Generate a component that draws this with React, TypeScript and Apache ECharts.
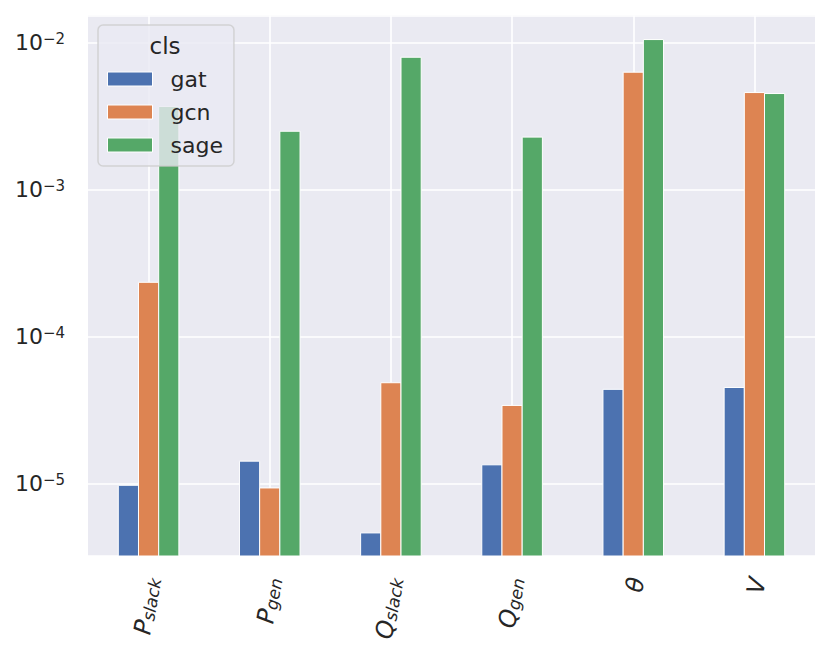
import React, { useEffect, useRef } from "react";
import * as echarts from "echarts";

const categories = ["P_slack", "P_gen", "Q_slack", "Q_gen", "θ", "V"];
const seriesNames = ["gat", "gcn", "sage"];
const gat = [9.8e-6, 1.43e-5, 4.65e-6, 1.35e-5, 4.4e-5, 4.53e-5];
const gcn = [2.35e-4, 9.4e-6, 4.88e-5, 3.42e-5, 6.3e-3, 4.58e-3];
const sage = [3.68e-3, 2.5e-3, 7.96e-3, 2.28e-3, 1.05e-2, 4.51e-3];
const colors = ["#4C72B0", "#DD8452", "#55A868"];
const yMin = 3.24e-6;
const yMax = 0.0153;

const FONT = "DejaVu Sans";
const TEXT = "#262626";

export default function App() {
  const ref = useRef<HTMLDivElement>(null);
  useEffect(() => {
    if (!ref.current) return;
    const chart = echarts.init(ref.current, undefined, { renderer: "svg" });
    const all = [gat, gcn, sage];
    const series = all.map((vals, si) => ({
      name: seriesNames[si],
      type: "custom",
      itemStyle: { color: colors[si] },
      encode: { x: 0, y: 1 },
      data: vals.map((v, i) => [i, v]),
      z: 2,
      renderItem: (params: any, api: any) => {
        const ci = api.value(0);
        const v = api.value(1);
        const top = api.coord([ci, v]);
        const base = api.coord([ci, yMin]);
        const band = api.size([1, 0])[0];
        const w = (band * 0.5) / 3;
        const x = top[0] + (si - 1) * w - w / 2;
        return {
          type: "rect",
          shape: { x, y: top[1], width: w, height: base[1] - top[1] },
          style: { fill: colors[si], stroke: "#ffffff", lineWidth: 1 },
        };
      },
    }));
    const option: any = {
      animation: false,
      backgroundColor: "#ffffff",
      textStyle: { fontFamily: FONT, color: TEXT },
      grid: {
        show: true,
        left: 88,
        right: 16,
        top: 15.5,
        bottom: 95,
        backgroundColor: "#EAEAF2",
        borderWidth: 0,
        containLabel: false,
      },
      legend: {
        orient: "vertical",
        left: 98,
        top: 25,
        padding: [43, 11, 10, 9],
        itemWidth: 45,
        itemHeight: 14,
        itemGap: 11,
        icon: "rect",
        backgroundColor: "rgba(234,234,242,0.8)",
        borderColor: "rgba(204,204,204,0.8)",
        borderWidth: 1.5,
        borderRadius: 5,
        itemStyle: { borderColor: "#ffffff", borderWidth: 1 },
        textStyle: {
          fontFamily: FONT,
          fontSize: 22,
          lineHeight: 22,
          color: TEXT,
          padding: [0, 0, 0, 13],
        },
        data: seriesNames,
      },
      graphic: [
        {
          type: "text",
          x: 165,
          y: 46,
          z: 100,
          style: {
            text: "cls",
            fontFamily: FONT,
            fontSize: 23,
            fill: TEXT,
            align: "center",
            verticalAlign: "middle",
          },
        },
      ],
      xAxis: {
        type: "category",
        data: categories,
        axisLine: { show: false },
        axisTick: { show: false },
        splitLine: {
          show: true,
          alignWithLabel: true,
          lineStyle: { color: "#ffffff", width: 1.6 },
        },
        axisLabel: {
          rotate: 80,
          margin: 21,
          interval: 0,
          padding: [7, 0, 0, 0],
          formatter: (val: string) => {
            const parts = val.split("_");
            if (parts.length > 1) return `{m|${parts[0]}}{sub|${parts[1]}}`;
            return `{m|${val}}`;
          },
          rich: {
            m: {
              fontFamily: FONT,
              fontStyle: "italic",
              fontSize: 24,
              lineHeight: 24,
              color: TEXT,
            },
            sub: {
              fontFamily: FONT,
              fontStyle: "italic",
              fontSize: 17,
              lineHeight: 11,
              verticalAlign: "bottom",
              color: TEXT,
            },
          },
        },
      },
      yAxis: {
        type: "log",
        min: yMin,
        max: yMax,
        axisLine: { show: false },
        axisTick: { show: false },
        splitLine: { show: true, lineStyle: { color: "#ffffff", width: 1.6 } },
        axisLabel: {
          margin: 23,
          showMinLabel: false,
          showMaxLabel: false,
          formatter: (v: number) => {
            const e = Math.round(Math.log10(v));
            const s = e < 0 ? "\u2212" + -e : "" + e;
            return `{b|10}{s|${s}}`;
          },
          rich: {
            b: { fontFamily: FONT, fontSize: 22, lineHeight: 22, color: TEXT },
            s: {
              fontFamily: FONT,
              fontSize: 15,
              lineHeight: 10,
              verticalAlign: "top",
              color: TEXT,
            },
          },
        },
      },
      series,
    };
    chart.setOption(option);
    return () => chart.dispose();
  }, []);
  return (
    <div
      ref={ref}
      style={{ position: "fixed", left: 0, top: 0, width: 831, height: 651 }}
    />
  );
}
